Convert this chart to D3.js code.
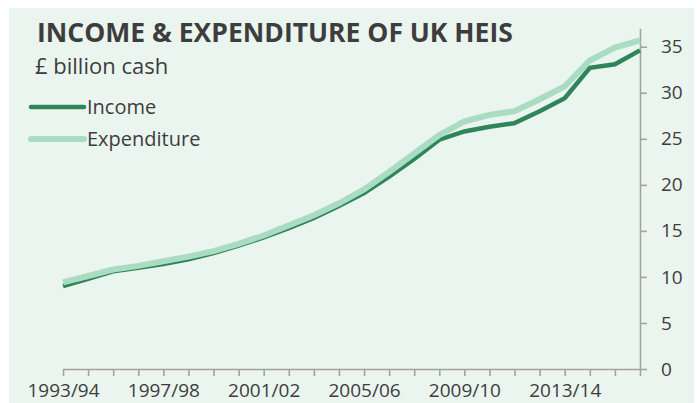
<!DOCTYPE html>
<html>
<head>
<meta charset="utf-8">
<script src="https://cdn.jsdelivr.net/npm/d3@7"></script>
<style>
  body { margin: 0; background: #fff; }
  svg { display: block; font-family: "Open Sans", sans-serif; }
  .axis { font-family: "Open Sans", sans-serif; }
  .axis text { fill: #3d3d3d; font-size: 19px; }
  .axis path, .axis line { stroke: #a3a3a3; stroke-width: 1.6; }
</style>
</head>
<body>
<svg id="chart" width="697" height="403"></svg>
<script>
// years 1993/94 .. 2016/17
let years = ['1993/94', '1994/95', '1995/96', '1996/97', '1997/98', '1998/99', '1999/00', '2000/01',
    '2001/02', '2002/03', '2003/04', '2004/05', '2005/06', '2006/07', '2007/08', '2008/09',
    '2009/10', '2010/11', '2011/12', '2012/13', '2013/14', '2014/15', '2015/16', '2016/17'];
let income = [9.0, 9.8, 10.6, 11.0, 11.4, 11.9, 12.6, 13.4, 14.3, 15.3, 16.4, 17.7,
    19.1, 20.9, 22.8, 24.9, 25.8, 26.3, 26.7, 28.0, 29.4, 32.7, 33.1, 34.6];
let expenditure = [9.4, 10.1, 10.8, 11.2, 11.7, 12.2, 12.8, 13.6, 14.5, 15.6, 16.7, 18.0,
    19.5, 21.4, 23.4, 25.4, 26.9, 27.6, 28.0, 29.3, 30.7, 33.5, 34.9, 35.7];
let xLabels = ['1993/94', '1997/98', '2001/02', '2005/06', '2009/10', '2013/14'];
let yTicks = [0, 5, 10, 15, 20, 25, 30, 35];

let colIncome = '#2e8559', colExp = '#a9dcc2';

var svg = d3.select('#chart');
svg.append('rect').attr('x', 9).attr('y', 8).attr('width', 685).attr('height', 395).attr('fill', '#ebf5ef');

var x = d3.scaleLinear().domain([0, years.length - 1]).range([63, 640]);
var y = d3.scaleLinear().domain([0, 37]).range([369, 28.3]);

// x axis
var xAxis = d3.axisBottom(x)
    .tickValues(d3.range(years.length))
    .tickSize(7)
    .tickSizeOuter(0)
    .tickPadding(8)
    .tickFormat(i => xLabels.indexOf(years[i]) >= 0 ? years[i] : '');
svg.append('g').attr('class', 'axis').attr('transform', 'translate(0,369)').call(xAxis);

// y axis (right side)
var yAxis = d3.axisRight(y)
    .tickValues(yTicks)
    .tickSize(7)
    .tickSizeOuter(0)
    .tickPadding(14);
svg.append('g').attr('class', 'axis').attr('transform', 'translate(640,0)').call(yAxis);
svg.selectAll('.axis').attr('font-family', null);

var line = d3.line().x((d, i) => x(i)).y(d => y(d));

svg.append('path').datum(income)
    .attr('d', line).attr('fill', 'none')
    .attr('stroke', colIncome).attr('stroke-width', 4.5);
svg.append('path').datum(expenditure)
    .attr('d', line).attr('fill', 'none')
    .attr('stroke', colExp).attr('stroke-width', 6);

// titles
svg.append('text').attr('x', 37).attr('y', 42)
    .attr('font-size', 26.5).attr('font-weight', 'bold').attr('fill', '#3d3d3d')
    .text('INCOME & EXPENDITURE OF UK HEIS');
svg.append('text').attr('x', 35).attr('y', 74)
    .attr('font-size', 22).attr('fill', '#3d3d3d')
    .text('£ billion cash');

// legend
var legend = [['Income', colIncome, 4.5, 107], ['Expenditure', colExp, 6, 139]];
legend.forEach(function(l) {
    svg.append('line').attr('x1', 31).attr('x2', 84).attr('y1', l[3]).attr('y2', l[3])
        .attr('stroke', l[1]).attr('stroke-width', l[2]).attr('stroke-linecap', 'round');
    svg.append('text').attr('x', 87).attr('y', l[3] + 6.8)
        .attr('font-size', 20).attr('fill', '#3d3d3d').text(l[0]);
});
</script>
</body>
</html>
